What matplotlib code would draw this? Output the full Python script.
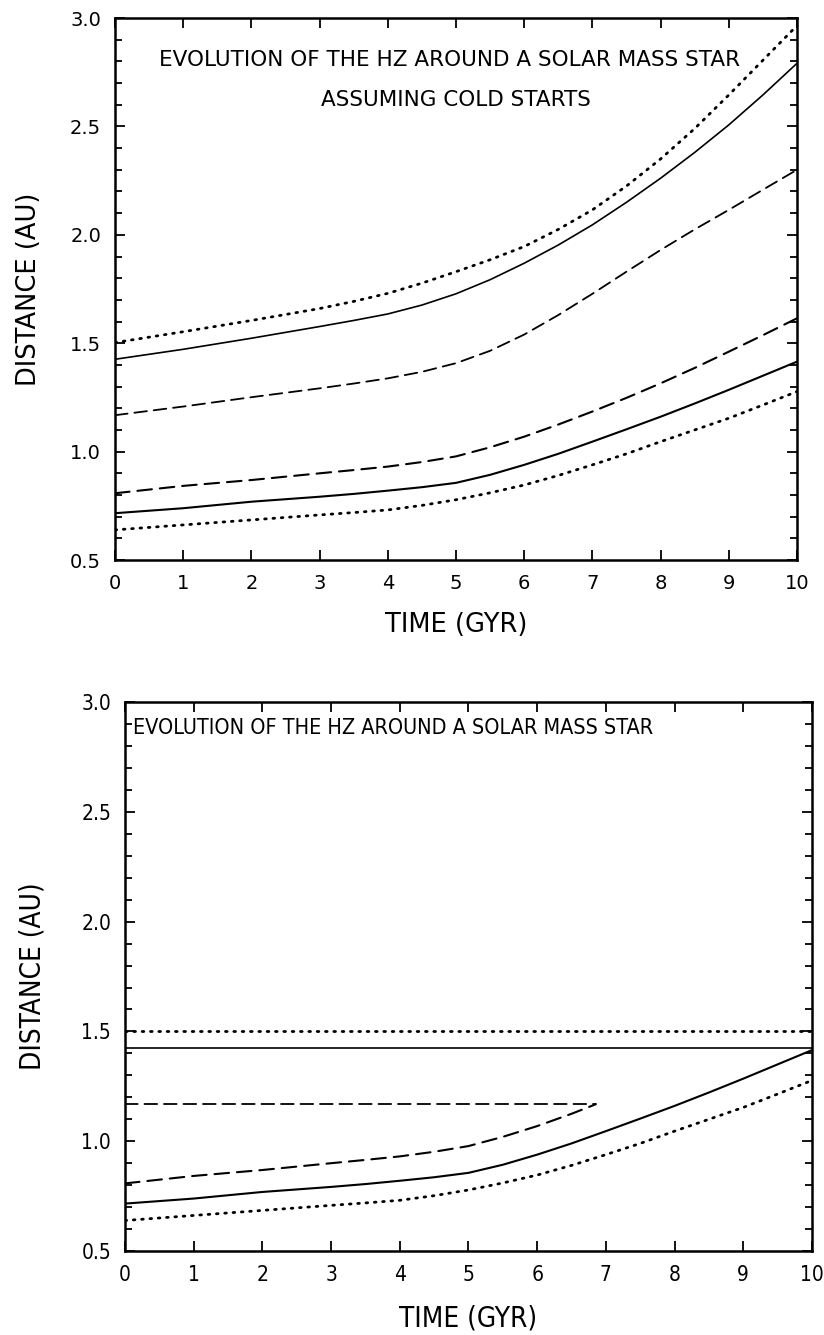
import matplotlib
matplotlib.use('Agg')
import matplotlib.pyplot as plt
from matplotlib.ticker import MultipleLocator, FormatStrFormatter

# time grid (Gyr)
time = [0, 1, 2, 3, 3.5, 4, 4.5, 5, 5.5, 6, 6.5, 7, 7.5, 8, 8.5, 9, 9.5, 10]

# habitable zone boundaries, cold starts (AU)
outer_dotted = [1.503, 1.553, 1.605, 1.660, 1.693, 1.730, 1.777, 1.830, 1.885, 1.946, 2.025,
                2.115, 2.225, 2.350, 2.490, 2.645, 2.805, 2.965]
outer_solid = [1.426, 1.472, 1.523, 1.577, 1.605, 1.635, 1.676, 1.728, 1.793, 1.869, 1.953,
               2.046, 2.150, 2.261, 2.380, 2.507, 2.645, 2.791]
outer_dashed = [1.168, 1.208, 1.251, 1.292, 1.314, 1.338, 1.368, 1.408, 1.465, 1.540, 1.630,
                1.728, 1.830, 1.930, 2.025, 2.115, 2.208, 2.300]
inner_dashed = [0.808, 0.842, 0.869, 0.900, 0.915, 0.931, 0.952, 0.978, 1.020, 1.069, 1.125,
                1.185, 1.248, 1.315, 1.386, 1.461, 1.537, 1.615]
inner_solid = [0.716, 0.739, 0.769, 0.792, 0.805, 0.820, 0.836, 0.856, 0.893, 0.939, 0.990,
               1.046, 1.103, 1.161, 1.222, 1.285, 1.350, 1.415]
inner_dotted = [0.639, 0.662, 0.685, 0.708, 0.719, 0.731, 0.752, 0.778, 0.810, 0.846, 0.890,
                0.939, 0.990, 1.046, 1.100, 1.154, 1.215, 1.277]

# second panel: outer edges frozen at their initial values
flat_time = [0, 10]
flat_dotted = [1.503, 1.503]
flat_solid = [1.426, 1.426]
flat_dash_time = [0, 6.85]
flat_dashed = [1.168, 1.168]
inner_dashed_time = [0, 1, 2, 3, 3.5, 4, 4.5, 5, 5.5, 6, 6.5, 6.85]
inner_dashed_cut = [0.808, 0.842, 0.869, 0.900, 0.915, 0.931, 0.952, 0.978, 1.020, 1.069,
                    1.125, 1.168]

DASH = (0, (7, 3.8))
DOT = (0, (0.6, 2.4))


def style_axes(ax, stretch, tick_size, label_size, ypad, xpad):
    ax.set_xlim(0, 10)
    ax.set_ylim(0.5, 3.0)
    ax.xaxis.set_major_locator(MultipleLocator(1))
    ax.yaxis.set_major_locator(MultipleLocator(0.5))
    ax.yaxis.set_minor_locator(MultipleLocator(0.1))
    ax.yaxis.set_major_formatter(FormatStrFormatter('%.1f'))
    ax.tick_params(which='both', direction='in', top=True, right=True, width=1.3)
    ax.tick_params(which='major', length=7, labelsize=tick_size, pad=10)
    ax.tick_params(which='minor', length=5)
    for lab in ax.get_xticklabels() + ax.get_yticklabels():
        lab.set_fontstretch(stretch)
    for s in ax.spines.values():
        s.set_linewidth(1.8)
    ax.set_xlabel('TIME (GYR)', fontsize=label_size, labelpad=xpad, fontstretch=stretch)
    ax.set_ylabel('DISTANCE (AU)', fontsize=label_size, labelpad=ypad, fontstretch=stretch)


def draw(ax, x, y, ls, lw):
    ax.plot(x, y, color='black', lw=lw, linestyle=ls,
            dash_capstyle='round', solid_capstyle='butt')


fig = plt.figure(figsize=(8.24, 13.35), dpi=100)

# top panel
ax1 = fig.add_axes([0.1396, 0.5805, 0.8276, 0.4060])
draw(ax1, time, outer_dotted, DOT, 2.0)
draw(ax1, time, outer_solid, '-', 1.2)
draw(ax1, time, outer_dashed, DASH, 1.3)
draw(ax1, time, inner_dashed, DASH, 1.5)
draw(ax1, time, inner_solid, '-', 1.5)
draw(ax1, time, inner_dotted, DOT, 2.0)
style_axes(ax1, 'normal', 14, 18.5, 20, 14)
ax1.text(4.91, 2.807, 'EVOLUTION OF THE HZ AROUND A SOLAR MASS STAR', ha='center',
         va='center', fontsize=15.5)
ax1.text(5.0, 2.62, 'ASSUMING COLD STARTS', ha='center', va='center', fontsize=15.5)

# bottom panel
ax2 = fig.add_axes([0.1517, 0.0629, 0.8337, 0.4112])
draw(ax2, flat_time, flat_dotted, DOT, 2.0)
draw(ax2, flat_time, flat_solid, '-', 1.2)
draw(ax2, flat_dash_time, flat_dashed, DASH, 1.3)
draw(ax2, inner_dashed_time, inner_dashed_cut, DASH, 1.5)
draw(ax2, time, inner_solid, '-', 1.5)
draw(ax2, time, inner_dotted, DOT, 2.0)
style_axes(ax2, 'condensed', 15, 20, 25, 14)
ax2.text(0.12, 2.88, 'EVOLUTION OF THE HZ AROUND A SOLAR MASS STAR', ha='left',
         va='center', fontsize=15.5, fontstretch='condensed')

fig.savefig('out.png', dpi=100)
